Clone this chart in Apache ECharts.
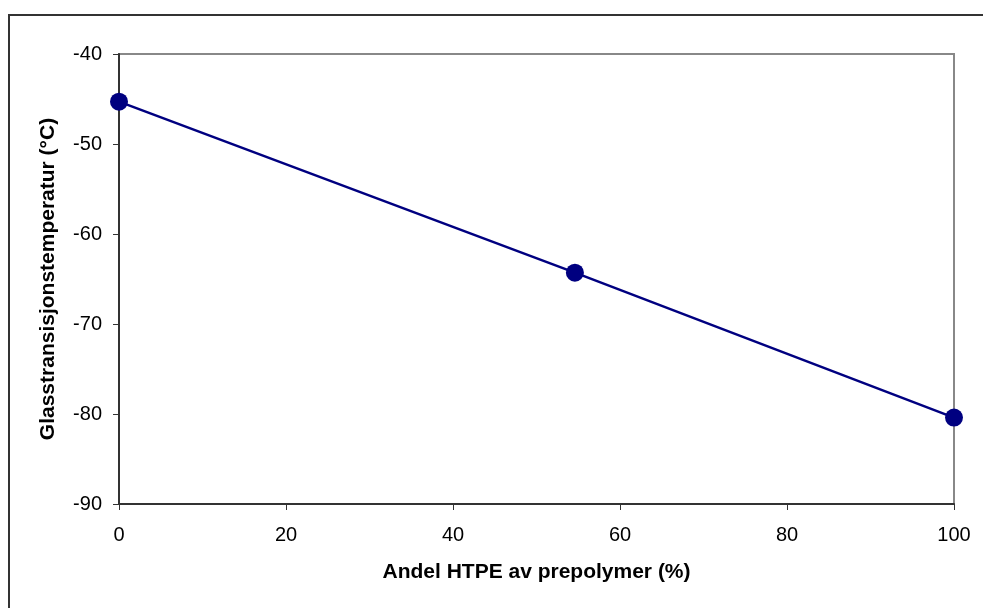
<!DOCTYPE html>
<html>
<head>
<meta charset="utf-8">
<script src="https://cdn.jsdelivr.net/npm/echarts@6/dist/echarts.min.js"></script>
<style>
  html, body { margin: 0; padding: 0; background: #fff; }
  #chart { width: 983px; height: 608px; }
</style>
</head>
<body>
<div id="chart"></div>
<script>
// andel HTPE (%) and glass transition temperature (°C)
const htpeShare = [0, 54.6, 100];
const glassTemp = [-45.3, -64.3, -80.4];

const xTitle = 'Andel HTPE av prepolymer (%)';
const yTitle = 'Glasstransisjonstemperatur (°C)';

const chart = echarts.init(document.getElementById('chart'));

const points = htpeShare.map((x, i) => [x, glassTemp[i]]);

chart.setOption({
  backgroundColor: '#fff',
  animation: false,
  graphic: [
    {
      // outer chart frame, cut off at right and bottom like the original
      type: 'rect',
      shape: { x: 9, y: 15, width: 1000, height: 620 },
      style: { fill: 'none', stroke: '#333', lineWidth: 2 },
      silent: true
    }
  ],
  grid: {
    left: 119,
    right: 29,
    top: 54,
    bottom: 104,
    show: true,
    borderColor: '#888',
    borderWidth: 2,
    backgroundColor: '#fff'
  },
  xAxis: {
    type: 'value',
    min: 0,
    max: 100,
    interval: 20,
    name: xTitle,
    nameLocation: 'middle',
    nameGap: 58,
    nameTextStyle: { fontFamily: 'Liberation Sans', fontWeight: 'bold', fontSize: 21, color: '#000' },
    axisLine: { show: true, onZero: false, lineStyle: { color: '#333', width: 2 } },
    axisTick: { show: true, length: 6, lineStyle: { color: '#333', width: 1 } },
    axisLabel: { fontFamily: 'Liberation Sans', fontSize: 20, color: '#000', margin: 21 },
    splitLine: { show: false }
  },
  yAxis: {
    type: 'value',
    min: -90,
    max: -40,
    interval: 10,
    name: yTitle,
    nameLocation: 'middle',
    nameGap: 60,
    nameTextStyle: { fontFamily: 'Liberation Sans', fontWeight: 'bold', fontSize: 21, color: '#000' },
    axisLine: { show: true, onZero: false, lineStyle: { color: '#333', width: 2 } },
    axisTick: { show: true, length: 6, lineStyle: { color: '#333', width: 1 } },
    axisLabel: { fontFamily: 'Liberation Sans', fontSize: 20, color: '#000', margin: 17 },
    splitLine: { show: false }
  },
  series: [
    {
      type: 'line',
      data: points,
      symbol: 'circle',
      symbolSize: 18,
      lineStyle: { color: '#000080', width: 2.5 },
      itemStyle: { color: '#000080' },
      clip: false
    }
  ]
});
</script>
</body>
</html>
